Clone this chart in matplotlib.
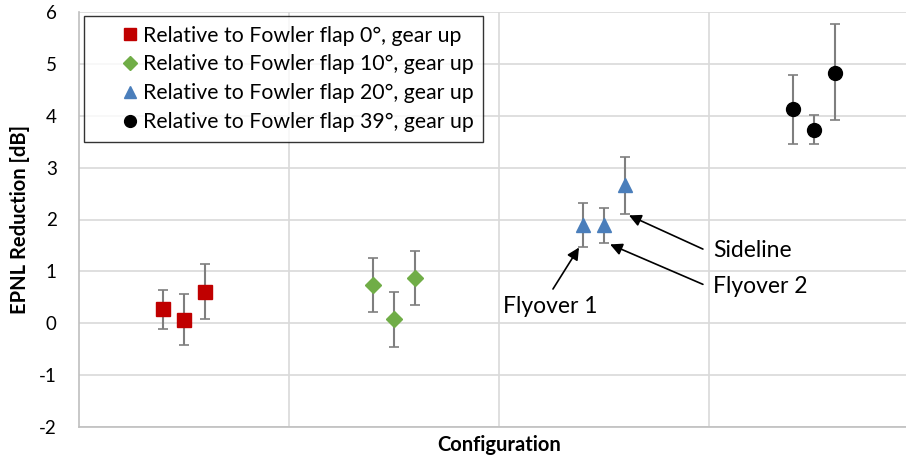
import numpy as np
import matplotlib.pyplot as plt
from matplotlib.lines import Line2D

plt.rcParams["font.family"] = ["Lato", "DejaVu Sans"]
plt.rcParams["axes.unicode_minus"] = False

# group centres on the x axis and offsets of the 3 points in a group
centres = [0.5, 1.5, 2.5, 3.5]
offsets = [-0.1, 0.0, 0.1]

labels = [
    "Relative to Fowler flap 0°, gear up",
    "Relative to Fowler flap 10°, gear up",
    "Relative to Fowler flap 20°, gear up",
    "Relative to Fowler flap 39°, gear up",
]

flap0 = [0.27, 0.06, 0.60]
flap0_hi = [0.65, 0.56, 1.14]
flap0_lo = [-0.12, -0.42, 0.08]

flap10 = [0.73, 0.08, 0.87]
flap10_hi = [1.25, 0.60, 1.40]
flap10_lo = [0.21, -0.46, 0.35]

flap20 = [1.90, 1.90, 2.67]
flap20_hi = [2.31, 2.23, 3.21]
flap20_lo = [1.47, 1.54, 2.10]

flap39 = [4.13, 3.73, 4.83]
flap39_hi = [4.79, 4.02, 5.76]
flap39_lo = [3.45, 3.45, 3.91]

series = [
    (flap0, flap0_lo, flap0_hi, "s", "#C00000", 10),
    (flap10, flap10_lo, flap10_hi, "D", "#70AD47", 8),
    (flap20, flap20_lo, flap20_hi, "^", "#4A7EBB", 10),
    (flap39, flap39_lo, flap39_hi, "o", "black", 10),
]


def main():
    fig = plt.figure(figsize=(9.06, 4.57), dpi=100)
    ax = fig.add_axes([79 / 906, 1 - 427 / 457, 840 / 906, 415 / 457])

    handles = []
    for (vals, lo, hi, mk, c, ms), cx, lab in zip(series, centres, labels):
        x = [cx + o for o in offsets]
        vals = np.array(vals)
        yerr = [vals - np.array(lo), np.array(hi) - vals]
        _, caps, bars = ax.errorbar(
            x, vals, yerr=yerr, fmt="none", ecolor="#7f7f7f",
            elinewidth=1.5, capsize=3.5, capthick=1.2, zorder=2,
        )
        for cap in caps:
            cap.set_color("#404040")
        ax.plot(x, vals, linestyle="none", marker=mk, color=c,
                markersize=ms, zorder=3)
        handles.append(Line2D([], [], linestyle="none", marker=mk, color=c,
                              markersize=ms * 0.85, label=lab))

    ax.set_xlim(0, 4)
    ax.set_ylim(-2, 6)
    ax.set_yticks(np.arange(-2, 7, 1))
    ax.set_xticks([1, 2, 3])
    ax.set_xticklabels([])
    ax.grid(True, color="#d9d9d9", linewidth=1.2)
    ax.set_axisbelow(True)
    ax.tick_params(length=0, labelsize=13.5, pad=16)
    for s in ["top", "right"]:
        ax.spines[s].set_visible(False)
    for s in ["left", "bottom"]:
        ax.spines[s].set_color("#bfbfbf")
        ax.spines[s].set_linewidth(1.2)

    fig.text(20 / 906, 1 - 219 / 457, "EPNL Reduction [dB]", fontsize=14.5,
             fontweight="bold", rotation=90, ha="center", va="center")
    fig.text(499 / 906, 1 - 445 / 457, "Configuration", fontsize=14.5,
             fontweight="bold", ha="center", va="center")

    arrow = dict(arrowstyle="-|>", color="black", lw=1.2, mutation_scale=18,
                 shrinkA=0, shrinkB=0)
    ax.annotate("", xy=(2.381, 1.46), xytext=(2.257, 0.66), arrowprops=arrow)
    ax.text(2.243, 0.33, "Flyover 1", fontsize=16.5, ha="center", va="center")
    ax.annotate("", xy=(2.529, 1.52), xytext=(2.971, 0.75), arrowprops=arrow)
    ax.text(3.019, 0.71, "Flyover 2", fontsize=16.5, ha="left", va="center")
    ax.annotate("", xy=(2.619, 2.08), xytext=(2.971, 1.43), arrowprops=arrow)
    ax.text(3.019, 1.41, "Sideline", fontsize=16.5, ha="left", va="center")

    leg = ax.legend(handles=handles, loc="upper left",
                    bbox_to_anchor=(84 / 906, 1 - 16 / 457),
                    bbox_transform=fig.transFigure, fontsize=15.3,
                    frameon=True, fancybox=False, borderaxespad=0,
                    handletextpad=-1.1, labelspacing=0.42, borderpad=0.45,
                    handlelength=3.43)
    leg.get_frame().set_edgecolor("black")
    leg.get_frame().set_linewidth(1.0)

    fig.savefig("out.png", dpi=100)


if __name__ == "__main__":
    main()
